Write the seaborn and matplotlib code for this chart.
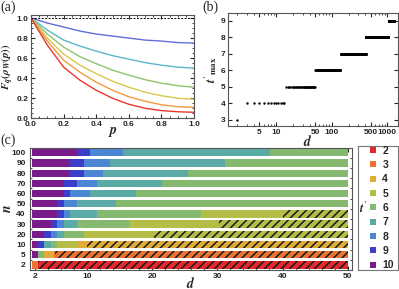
import numpy as np
import pandas as pd
import matplotlib
matplotlib.use("Agg")
import matplotlib.pyplot as plt
import seaborn as sns
from matplotlib.lines import Line2D

# ---------------- data ----------------
# panel (a): F_q(rho_W(p)) curves
p_vals = [0.0, 0.1, 0.2, 0.3, 0.4, 0.5, 0.6, 0.7, 0.8, 0.9, 1.0]
f_blue = [1.0, 0.95, 0.91, 0.87, 0.84, 0.82, 0.80, 0.78, 0.77, 0.755, 0.75]
f_cyan = [1.0, 0.88, 0.78, 0.72, 0.67, 0.625, 0.59, 0.555, 0.53, 0.51, 0.50]
f_green = [1.0, 0.84, 0.71, 0.615, 0.545, 0.48, 0.43, 0.385, 0.35, 0.325, 0.31]
f_yellow = [1.0, 0.80, 0.64, 0.53, 0.445, 0.37, 0.31, 0.26, 0.225, 0.20, 0.19]
f_orange = [1.0, 0.77, 0.58, 0.46, 0.36, 0.28, 0.215, 0.17, 0.135, 0.115, 0.11]
f_red = [1.0, 0.73, 0.51, 0.38, 0.28, 0.20, 0.14, 0.10, 0.077, 0.065, 0.06]
curve_names = ["blue", "cyan", "green", "yellow", "orange", "red"]
curve_colors = ["#5f70d8", "#5cb6c9", "#8fc46c", "#d8c74c", "#f09a3e", "#e8362f"]

# panel (b): t'_max as a step function of d (first d, last d, level)
b_first = [2, 3, 15, 50, 144, 409, 1046]
b_last = [2, 14, 49, 143, 408, 1045, 1300]
b_level = [3, 4, 5, 6, 7, 8, 9]

# panel (c): rows of n, bottom to top
n_labels = ["2", "5", "10", "20", "30", "40", "50", "60", "70", "80", "90", "100"]
row_levels = [
    [3, 2],
    [10, 6, 4, 3],
    [10, 9, 7, 6, 5, 4],
    [10, 9, 8, 7, 6, 5],
    [10, 9, 8, 7, 6, 5],
    [10, 9, 8, 7, 6, 5],
    [10, 9, 8, 7, 6],
    [10, 9, 8, 7, 6],
    [10, 9, 8, 7, 6],
    [10, 9, 8, 7, 6],
    [10, 9, 8, 7, 6],
    [10, 9, 8, 7, 6],
]
row_edges = [
    [2.5, 50],
    [2.5, 3.5, 5.0, 50],
    [2.5, 3.5, 4.5, 5.5, 8.5, 50],
    [3.5, 4.5, 5.5, 6.5, 9.5, 50],
    [4.5, 5.5, 6.5, 8.5, 16.5, 50],
    [5.5, 6.5, 7.5, 11.5, 27.5, 50],
    [5.5, 6.5, 8.5, 14.5, 50],
    [6.5, 7.5, 10.5, 17.5, 50],
    [6.5, 8.5, 11.5, 21.5, 50],
    [7.5, 9.5, 12.5, 25.5, 50],
    [7.5, 9.5, 13.5, 31.2, 50],
    [8.5, 10.5, 15.5, 38.1, 50],
]
hatch_start = [2.5, 5.1, 10.1, 20.3, 30.2, 40.0, None, None, None, None, None, None]
bar_start = 1.6
t_values = [2, 3, 4, 5, 6, 7, 8, 9, 10]
t_colors = ["#e4282b", "#ec7433", "#e0ab36", "#b4bd45", "#84b96f",
            "#5aaba6", "#4b86d5", "#3a3ecb", "#7a1b8c"]

# ---------------- style ----------------
sns.set_style("ticks")
plt.rcParams.update({
    "font.family": ["Liberation Sans", "DejaVu Sans"],
    "font.weight": "bold",
    "font.size": 6,
    "mathtext.fontset": "stix",
    "axes.edgecolor": "#555555",
    "axes.linewidth": 0.8,
    "xtick.direction": "in",
    "ytick.direction": "in",
    "xtick.major.size": 3,
    "ytick.major.size": 3,
    "xtick.minor.size": 1.5,
    "ytick.minor.size": 1.5,
    "xtick.major.pad": 2,
    "ytick.major.pad": 2,
    "hatch.linewidth": 1.1,
})

fig = plt.figure(figsize=(3.99, 2.89), dpi=100)
ax_a = fig.add_axes([31 / 399, 1 - 118.3 / 289, 163 / 399, 103.3 / 289])
ax_b = fig.add_axes([228 / 399, 1 - 126 / 289, 170 / 399, 112.7 / 289])
ax_c = fig.add_axes([30 / 399, 1 - 270 / 289, 321.7 / 399, 122.3 / 289])
ax_l = fig.add_axes([358 / 399, 1 - 270 / 289, 40 / 399, 124 / 289])

serif = ["Liberation Serif", "DejaVu Serif"]

# ---------------- panel (a) ----------------
curves = [f_blue, f_cyan, f_green, f_yellow, f_orange, f_red]
df_a = pd.DataFrame({
    "p": np.tile(p_vals, len(curves)),
    "F": np.concatenate(curves),
    "curve": np.repeat(curve_names, len(p_vals)),
})
sns.lineplot(data=df_a, x="p", y="F", hue="curve", palette=curve_colors,
             legend=False, ax=ax_a, lw=1)
ax_a.axhline(1.0, color="black", lw=0.7, ls=(0, (2, 1.5)))
ax_a.set_xlim(0, 1.0)
ax_a.set_ylim(0, 1.03)
ax_a.set_xticks(np.arange(0, 1.01, 0.2))
ax_a.set_yticks(np.arange(0, 1.01, 0.2))
ax_a.set_xticks(np.arange(0, 1.01, 0.05), minor=True)
ax_a.set_yticks(np.arange(0, 1.01, 0.05), minor=True)
ax_a.set_xticklabels([f"{v:.1f}" for v in np.arange(0, 1.01, 0.2)])
ax_a.set_yticklabels([f"{v:.1f}" for v in np.arange(0, 1.01, 0.2)])
ax_a.tick_params(which="both", top=True, right=True)
ax_a.set_xlabel("$p$", fontsize=10)
ax_a.set_ylabel(r"$F_q(\rho_W(p))$", fontsize=8)
ax_a.xaxis.set_label_coords(0.5, -0.065)
ax_a.yaxis.set_label_coords(-0.092, 0.5)

# ---------------- panel (b) ----------------
d_list, t_list = [], []
for a, b, lev in zip(b_first, b_last, b_level):
    ds = np.arange(a, b + 1)
    d_list.append(ds)
    t_list.append(np.full(len(ds), lev))
df_b = pd.DataFrame({"d": np.concatenate(d_list), "t": np.concatenate(t_list)})
sns.scatterplot(data=df_b, x="d", y="t", color="black", s=3, linewidth=0,
                ax=ax_b)
ax_b.set_xscale("log")
ax_b.set_xlim(1.36, 1550)
ax_b.set_ylim(2.62, 9.45)
ax_b.set_xticks([5, 10, 50, 100, 500, 1000])
ax_b.set_xticklabels(["5", "10", "50", "100", "500", "1000"])
ax_b.set_yticks(range(3, 10))
ax_b.tick_params(which="both", top=True, right=True)
ax_b.set_xlabel("$d$", fontsize=10)
ax_b.set_ylabel(r"$t'_{\mathrm{max}}$", fontsize=9)
ax_b.xaxis.set_label_coords(0.47, -0.075)
ax_b.yaxis.set_label_coords(-0.055, 0.5)

# ---------------- panel (c) ----------------
color_of = dict(zip(t_values, t_colors))
for i, (levels, edges) in enumerate(zip(row_levels, row_edges)):
    left = bar_start
    for lev, right in zip(levels, edges):
        ax_c.barh(i, right - left, left=left, height=0.72,
                  color=color_of[lev], linewidth=0)
        left = right
    if hatch_start[i] is not None:
        ax_c.barh(i, edges[-1] - hatch_start[i], left=hatch_start[i],
                  height=0.72, color="none", edgecolor="#1a1a1a",
                  linewidth=0, hatch="////")
ax_c.set_xlim(1.3, 50.6)
ax_c.set_ylim(-0.5, 11.5)
ax_c.set_yticks(range(len(n_labels)))
ax_c.set_yticklabels(n_labels)
ax_c.set_xticks([2, 10, 20, 30, 40, 50])
ax_c.set_xticks(np.arange(2, 51, 2), minor=True)
ax_c.set_yticks(np.arange(-0.5, 11.6, 0.5), minor=True)
ax_c.tick_params(which="both", top=True, right=True)
ax_c.tick_params(axis="y", which="major", length=0, pad=3)
ax_c.set_xlabel("$d$", fontsize=10)
ax_c.set_ylabel("$n$", fontsize=10)
ax_c.xaxis.set_label_coords(0.5, -0.045)
ax_c.yaxis.set_label_coords(-0.05, 0.5)

# legend box for t'
for s in ax_l.spines.values():
    s.set_color("#777777")
ax_l.set_xticks([])
ax_l.set_yticks([])
ax_l.set_facecolor("white")
handles = [Line2D([], [], ls="none", marker="s", markersize=4.3,
                  markerfacecolor=c, markeredgewidth=0) for c in t_colors]
ax_l.legend(handles, [str(t) for t in t_values], loc="center right",
            frameon=False, prop={"weight": "bold", "size": 7.5},
            handlelength=0.8, handletextpad=0.5, labelspacing=0.42,
            borderaxespad=0.2, borderpad=0.2)
ax_l.text(0.13, 0.5, "$t'$", transform=ax_l.transAxes, fontsize=9,
          ha="center", va="center")

# panel letters
fig.text(0.002, 0.997, "(a)", fontsize=10, family=serif, weight="normal",
         va="top", ha="left")
fig.text(202 / 399, 0.997, "(b)", fontsize=10, family=serif, weight="normal",
         va="top", ha="left")
fig.text(0.002, 1 - 134 / 289, "(c)", fontsize=10, family=serif,
         weight="normal", va="top", ha="left")

fig.savefig("out.png", dpi=100)
